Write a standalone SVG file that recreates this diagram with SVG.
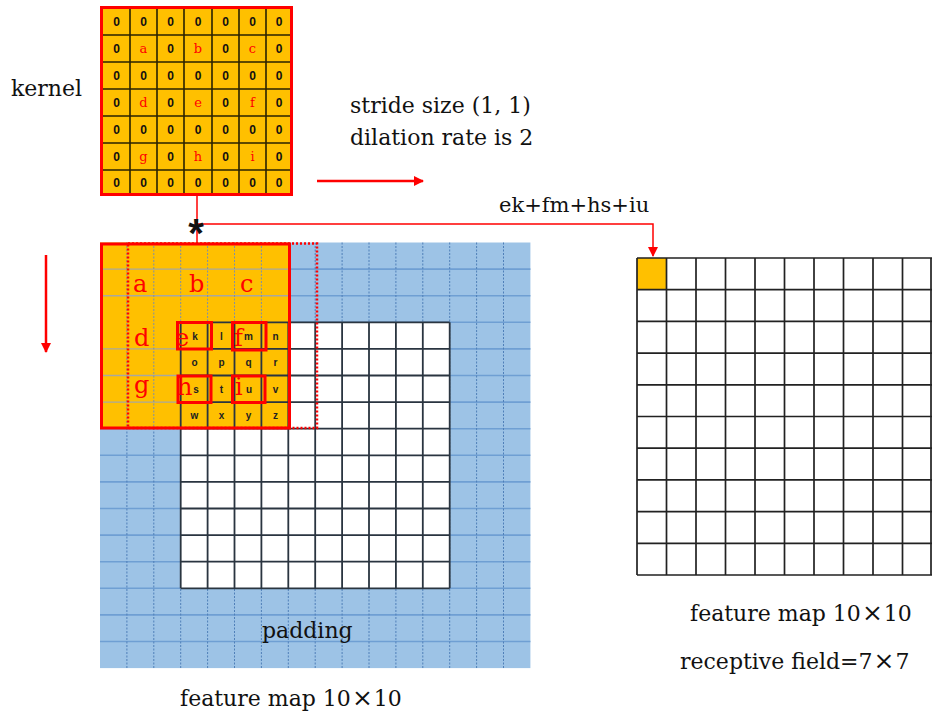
<svg xmlns="http://www.w3.org/2000/svg" width="932" height="723" viewBox="0 0 932 723">
<style>
.lbl{font-family:"DejaVu Serif","Liberation Serif",serif;font-size:22px;fill:#111}
.x{font-size:25px}
.big{font-family:"DejaVu Serif","Liberation Serif",serif;font-size:24px;fill:#ff0000}
.kz{font-family:"Liberation Sans",Arial,sans-serif;font-size:12px;font-weight:bold;fill:#111;text-anchor:middle}
.kl{font-family:"DejaVu Serif","Liberation Serif",serif;font-size:13px;fill:#ff0000;text-anchor:middle}
.sm{font-family:"Liberation Sans",Arial,sans-serif;font-size:10px;font-weight:bold;fill:#222;text-anchor:middle}
.bh{stroke:#6F9FD3;stroke-width:1.6}
.bv{stroke:#4F7FB8;stroke-width:1;stroke-dasharray:2,1.5}
.oh{stroke:#A8A8A0;stroke-width:1.4}
.ov{stroke:#7C8FA8;stroke-width:1;stroke-dasharray:2,1.5}
.dk{stroke:#2A3540;stroke-width:1.8}
.kg{stroke:#2A2200;stroke-width:1.6}
.rg{stroke:#222;stroke-width:1.7}
.red{stroke:#ff0000;fill:none}
</style>
<defs>
<marker id="ah" viewBox="0 0 10 10" refX="9" refY="5" markerWidth="4" markerHeight="4" orient="auto" markerUnits="strokeWidth">
<path d="M0,0 L10,5 L0,10 z" fill="#ff0000"/>
</marker>
<marker id="ah2" viewBox="0 0 10 10" refX="9" refY="5" markerWidth="7" markerHeight="7" orient="auto" markerUnits="strokeWidth">
<path d="M0,0 L10,5 L0,10 z" fill="#ff0000"/>
</marker>
</defs>
<rect width="932" height="723" fill="#ffffff"/>

<g id="kernel-label"><text class="lbl" x="11" y="96">kernel</text></g>

<g id="kernel">
<rect x="101.5" y="7.5" width="190" height="187" fill="#FFC000" stroke="#ff0000" stroke-width="3"/>
<path class="kg" d="M130,9V193M157,9V193M184,9V193M212,9V193M239,9V193M266,9V193M103,35H290M103,62H290M103,89H290M103,116H290M103,143H290M103,170H290"/>
<g class="kz">
<text x="116.5" y="26">0</text><text x="143.5" y="26">0</text><text x="170.5" y="26">0</text><text x="198" y="26">0</text><text x="225.5" y="26">0</text><text x="252.5" y="26">0</text><text x="279" y="26">0</text>
<text x="116.5" y="53">0</text><text x="170.5" y="53">0</text><text x="225.5" y="53">0</text><text x="279" y="53">0</text>
<text x="116.5" y="80">0</text><text x="143.5" y="80">0</text><text x="170.5" y="80">0</text><text x="198" y="80">0</text><text x="225.5" y="80">0</text><text x="252.5" y="80">0</text><text x="279" y="80">0</text>
<text x="116.5" y="107">0</text><text x="170.5" y="107">0</text><text x="225.5" y="107">0</text><text x="279" y="107">0</text>
<text x="116.5" y="134">0</text><text x="143.5" y="134">0</text><text x="170.5" y="134">0</text><text x="198" y="134">0</text><text x="225.5" y="134">0</text><text x="252.5" y="134">0</text><text x="279" y="134">0</text>
<text x="116.5" y="161">0</text><text x="170.5" y="161">0</text><text x="225.5" y="161">0</text><text x="279" y="161">0</text>
<text x="116.5" y="187">0</text><text x="143.5" y="187">0</text><text x="170.5" y="187">0</text><text x="198" y="187">0</text><text x="225.5" y="187">0</text><text x="252.5" y="187">0</text><text x="279" y="187">0</text>
</g>
<g class="kl">
<text x="143.5" y="53">a</text><text x="198" y="53">b</text><text x="252.5" y="53">c</text>
<text x="143.5" y="107">d</text><text x="198" y="107">e</text><text x="252.5" y="107">f</text>
<text x="143.5" y="161">g</text><text x="198" y="161">h</text><text x="252.5" y="161">i</text>
</g>
</g>

<g id="stride-label">
<text class="lbl" x="350" y="113">stride size (1, 1)</text>
<text class="lbl" x="350" y="145">dilation rate is 2</text>
</g>
<g id="sum-label"><text class="lbl" x="499" y="212" style="font-size:21px">ek+fm+hs+iu</text></g>

<g id="input-map">
<rect x="100" y="242.5" width="430.4" height="425.6" fill="#9DC3E6"/>
<path class="bh" d="M100,269.1H530.4M100,295.7H530.4M100,322.3H530.4M100,348.9H530.4M100,375.5H530.4M100,402.1H530.4M100,428.7H530.4M100,455.3H530.4M100,481.9H530.4M100,508.5H530.4M100,535.1H530.4M100,561.7H530.4M100,588.3H530.4M100,614.9H530.4M100,641.5H530.4"/>
<path class="bv" d="M126.9,242.5V668M153.8,242.5V668M180.7,242.5V668M207.6,242.5V668M234.5,242.5V668M261.4,242.5V668M288.3,242.5V668M315.2,242.5V668M342.1,242.5V668M369,242.5V668M395.9,242.5V668M422.8,242.5V668M449.7,242.5V668M476.6,242.5V668M503.5,242.5V668"/>
<rect x="180.7" y="322.3" width="269" height="266" fill="#ffffff"/>
<rect x="100" y="242.5" width="188.3" height="186.2" fill="#FFC000"/>
<path class="oh" d="M100,269.1H288.3M100,295.7H288.3M100,348.9H180.7M100,375.5H180.7M100,402.1H180.7"/>
<path class="ov" d="M126.9,242.5V428.7M153.8,242.5V428.7M180.7,242.5V322.3M207.6,242.5V322.3M234.5,242.5V322.3M261.4,242.5V322.3"/>
<path class="dk" d="M180.7,322.3V588.3M207.6,322.3V588.3M234.5,322.3V588.3M261.4,322.3V588.3M288.3,322.3V588.3M315.2,322.3V588.3M342.1,322.3V588.3M369,322.3V588.3M395.9,322.3V588.3M422.8,322.3V588.3M449.7,322.3V588.3M180.7,322.3H449.7M180.7,348.9H449.7M180.7,375.5H449.7M180.7,402.1H449.7M180.7,428.7H449.7M180.7,455.3H449.7M180.7,481.9H449.7M180.7,508.5H449.7M180.7,535.1H449.7M180.7,561.7H449.7M180.7,588.3H449.7"/>
<g class="sm">
<text x="195" y="340">k</text><text x="221.5" y="340">l</text><text x="248.5" y="340">m</text><text x="275.5" y="340">n</text>
<text x="194.5" y="366">o</text><text x="221.5" y="366">p</text><text x="248.5" y="366">q</text><text x="275.5" y="366">r</text>
<text x="196" y="393">s</text><text x="221.5" y="393">t</text><text x="249" y="393">u</text><text x="275.5" y="393">v</text>
<text x="194.5" y="419">w</text><text x="221.5" y="419">x</text><text x="248.5" y="419">y</text><text x="275.5" y="419">z</text>
</g>
<g class="big">
<text x="133" y="292">a</text><text x="189" y="292">b</text><text x="240" y="292">c</text>
<text x="134" y="346">d</text><text x="175" y="346">e</text><text x="234" y="346">f</text>
<text x="134" y="393">g</text><text x="177" y="395">h</text><text x="235" y="395">i</text>
</g>
<rect x="101.5" y="244" width="188" height="184" class="red" stroke-width="3"/>
<rect x="128" y="243.5" width="189" height="184.5" class="red" stroke-width="2.5" stroke-dasharray="2,2"/>
<rect x="177.5" y="322.5" width="34" height="26.5" class="red" stroke-width="3"/>
<rect x="232.5" y="322.5" width="33.5" height="27.5" class="red" stroke-width="3"/>
<rect x="178" y="376" width="33" height="26.5" class="red" stroke-width="3"/>
<rect x="232.5" y="376" width="32.5" height="26.5" class="red" stroke-width="3"/>
<text class="lbl" x="262" y="638">padding</text>
</g>

<g id="output-map">
<rect x="637" y="258" width="29.5" height="31.7" fill="#FFC000"/>
<path class="rg" d="M637,258V575M666.5,258V575M696,258V575M725.5,258V575M755,258V575M784.5,258V575M814,258V575M843.5,258V575M873,258V575M902.5,258V575M931,258V575M637,258H932M637,289.7H932M637,321.4H932M637,353.1H932M637,384.8H932M637,416.5H932M637,448.2H932M637,479.9H932M637,511.6H932M637,543.3H932M637,575H932"/>
</g>

<g id="connectors">
<path class="red" stroke-width="1.5" d="M197,195V243"/>
<path class="red" stroke-width="1.5" d="M197,224H653V256" marker-end="url(#ah2)"/>
<path class="red" stroke-width="2.5" d="M317,181H423" marker-end="url(#ah)"/>
<path class="red" stroke-width="2.5" d="M46,255V352" marker-end="url(#ah)"/>
</g>
<g id="conv-op"><text x="196" y="247" text-anchor="middle" style="font-family:'Liberation Sans',Arial,sans-serif;font-size:40px;font-weight:bold;fill:#111">*</text></g>

<g id="labels-bottom">
<text class="lbl" x="180" y="706">feature map 10<tspan class="x" dx="1">×</tspan><tspan dx="1">10</tspan></text>
<text class="lbl" x="690" y="621">feature map 10<tspan class="x" dx="1">×</tspan><tspan dx="1">10</tspan></text>
<text class="lbl" x="680" y="669">receptive field=7<tspan class="x" dx="1">×</tspan><tspan dx="1">7</tspan></text>
</g>
</svg>
